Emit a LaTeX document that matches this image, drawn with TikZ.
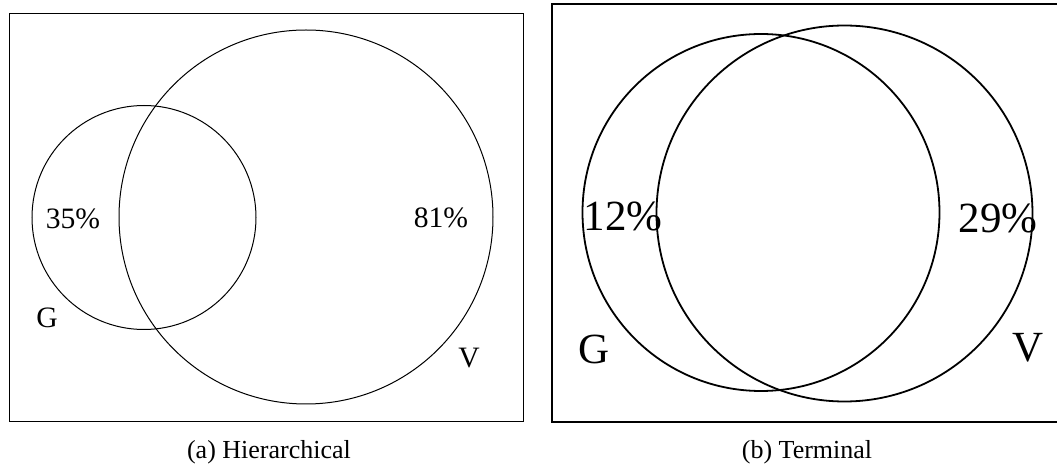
\documentclass[tikz,border=0pt]{standalone}
\usepackage{fontspec}
\setmainfont{Liberation Serif}
\begin{document}
\begin{tikzpicture}[x=0.5pt,y=-0.5pt,
  thinline/.style={line width=0.5pt},
  thickline/.style={line width=0.9pt},
  lblA/.style={inner sep=0pt,font=\fontsize{14.8}{17}\selectfont},
  lblB/.style={inner sep=0pt,font=\fontsize{21.5}{25}\selectfont},
  captext/.style={inner sep=0pt,font=\fontsize{13}{15}\selectfont}]
\useasboundingbox (0,0) rectangle (1057,470);
\clip (0,0) rectangle (1057,470);
% panel (a)
\draw[thinline] (9,14) rectangle (523,422);
\draw[thinline] (144,217.5) circle [radius=112];
\draw[thinline] (306,217) circle [radius=187];
\node[lblA] (pa1) at (73,219) {35$\%$};
\node[lblA] (pa2) at (441,218) {81$\%$};
\node[lblA] (ga) at (47,318) {G};
\node[lblA] (va) at (469,358) {V};
\node[captext] (capa) at (269,452) {(a) Hierarchical};
% panel (b)
\draw[thickline] (552,4) rectangle (1062,422);
\draw[thickline] (761,212.5) circle [radius=178.5];
\draw[thickline] (844.5,213.5) circle [radius=188];
\node[lblB] (pb1) at (623,216) {12$\%$};
\node[lblB] (pb2) at (998,218) {29$\%$};
\node[lblB] (gb) at (594,349) {G};
\node[lblB] (vb) at (1028,348) {V};
\node[captext] (capb) at (807,452) {(b) Terminal};
\end{tikzpicture}
\end{document}
